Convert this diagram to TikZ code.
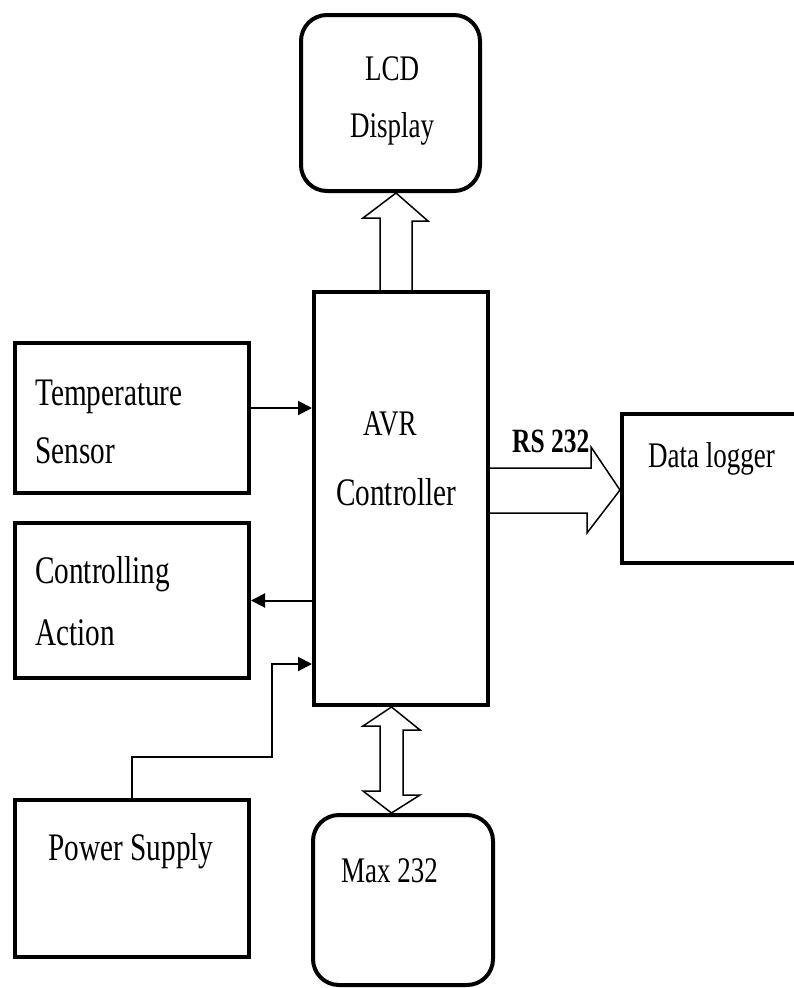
\documentclass[tikz,border=0pt]{standalone}
\usepackage{fontspec}
\setmainfont{Liberation Serif}[FakeStretch=0.75]
\usetikzlibrary{arrows.meta,calc}

\begin{document}
\begin{tikzpicture}[x=1pt, y=-1pt, >={Triangle[length=14pt,width=14pt]},
    blk/.style={draw, line width=4pt, rectangle, inner sep=0pt},
    rblk/.style={blk, rounded corners=26pt},
    txt/.style={font=\fontsize{36}{44}\selectfont, inner sep=0pt, anchor=base west},
    wtxt/.style={txt, font=\fontsize{39}{46}\selectfont},
    wire/.style={line width=2pt},
    hollow/.style={line width=1.5pt, line join=miter}]
  \useasboundingbox (0,0) rectangle (794,988);
  % Blocks
  \node[rblk, minimum width=179pt, minimum height=176pt] (lcd) at (390.5,103) {};
  \node[blk, minimum width=174pt, minimum height=413pt] (avr) at (401,498.5) {};
  \node[blk, minimum width=234pt, minimum height=150pt] (ts) at (132,418) {};
  \node[blk, minimum width=234pt, minimum height=155pt] (ca) at (132,600.5) {};
  \node[blk, minimum width=234pt, minimum height=157pt] (ps) at (132,878.5) {};
  \node[rblk, minimum width=180pt, minimum height=170pt] (max) at (403,900) {};
  \node[blk, minimum width=176pt, minimum height=149pt] (dl) at (710,488.5) {};
  % Labels
  \node[txt, anchor=base] (lcdA) at (392,80) {LCD};
  \node[txt, anchor=base] (lcdB) at (392,137) {Display};
  \node[txt] (avrA) at (363,435) {AVR};
  \node[wtxt] (avrB) at (336,505) {Controller};
  \node[wtxt] (tsA) at (35,405) {Temperature};
  \node[wtxt] (tsB) at (35,463) {Sensor};
  \node[wtxt] (caA) at (35,583) {Controlling};
  \node[wtxt] (caB) at (35,645) {Action};
  \node[wtxt, anchor=base] (psA) at (131,860) {Power Supply};
  \node[txt] (maxA) at (341,882) {Max 232};
  \node[txt] (dlA) at (648,467) {Data logger};
  \node[txt, font=\fontsize{34}{40}\selectfont\bfseries] (rs) at (512,452) {RS 232};
  % Plain connectors
  \draw[wire, ->] ($(ts.east)+(0,-10)$) coordinate (tsout) -- (tsout -| avr.west);
  \draw[wire, ->] (avr.west |- ca.east) -- (ca.east);
  \coordinate (pin) at ($(avr.south west)+(0,-43)$);
  \draw[wire, ->] (ps.north) -- ++(0,-41) -| ($(pin)+(-40,0)$) -- (pin);
  % Block arrows
  \draw[hollow] ($(avr.north)+(-21,0)$) -- ++(0,-72) -- ++(-17,0)
    -- ($(lcd.south)+(5.5,0)$) -- ++(32,28) -- ++(-16,0) -- ++(0,72);
  \draw[hollow] ($(avr.east)+(0,-30.5)$) -- ++(101,0) -- ++(0,-21)
    -- ($(dl.west)+(0,1.5)$) -- ++(-33,43) -- ++(0,-20) -- ++(-101,0);
  \draw[hollow] ($(avr.south)+(-9.5,0)$) -- ++(28.5,23) -- ++(-17,0) -- ++(0,65)
    -- ++(17,0) -- ($(max.north)+(-11.5,0)$) -- ++(-28.5,-22) -- ++(17,0)
    -- ++(0,-65) -- ++(-17,0) -- cycle;
\end{tikzpicture}
\end{document}
